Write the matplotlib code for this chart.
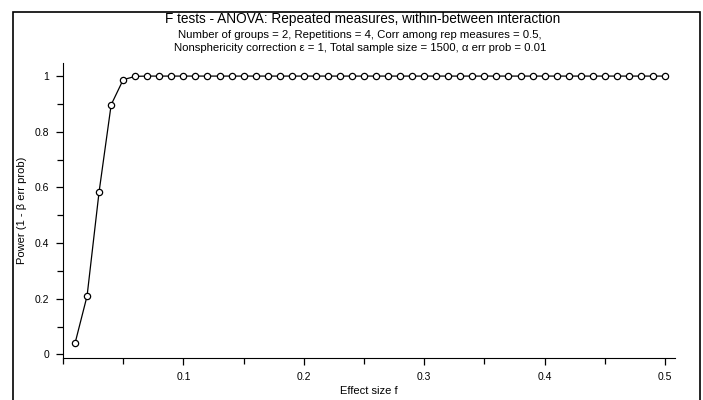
import matplotlib.pyplot as plt
from matplotlib.patches import Rectangle
from matplotlib.ticker import MultipleLocator

# effect size f and power
effect_size = [0.01, 0.02, 0.03, 0.04, 0.05, 0.06, 0.07, 0.08, 0.09, 0.10,
               0.11, 0.12, 0.13, 0.14, 0.15, 0.16, 0.17, 0.18, 0.19, 0.20,
               0.21, 0.22, 0.23, 0.24, 0.25, 0.26, 0.27, 0.28, 0.29, 0.30,
               0.31, 0.32, 0.33, 0.34, 0.35, 0.36, 0.37, 0.38, 0.39, 0.40,
               0.41, 0.42, 0.43, 0.44, 0.45, 0.46, 0.47, 0.48, 0.49, 0.50]
power = [0.04, 0.21, 0.585, 0.897, 0.987, 0.999] + [1.0] * 44

x_ticks = [0.1, 0.2, 0.3, 0.4, 0.5]
y_ticks = [0, 0.2, 0.4, 0.6, 0.8, 1]

title_lines = [
    "F tests - ANOVA: Repeated measures, within-between interaction",
    "Number of groups = 2, Repetitions = 4, Corr among rep measures = 0.5,",
    "Nonsphericity correction \u03b5 = 1, Total sample size = 1500, \u03b1 err prob = 0.01",
]

plt.rcParams["font.family"] = ["Liberation Sans", "DejaVu Sans"]

fig = plt.figure(figsize=(7.03, 4.0), dpi=100)

# outer frame of the window
fig.patches.append(Rectangle((13 / 703, -0.01), 687 / 703, 1 - 12 / 400 + 0.01,
                             transform=fig.transFigure, fill=False,
                             edgecolor="black", linewidth=1.2))

ax = fig.add_axes([63 / 703, 1 - 358 / 400, (675 - 63) / 703, (358 - 63) / 400])
ax.plot(effect_size, power, color="black", linewidth=0.9,
        marker="o", markersize=4.5, markerfacecolor="white",
        markeredgecolor="black", markeredgewidth=0.9)

ax.set_xlim(0, 0.5083)
ax.set_ylim(-0.013, 1.047)
ax.set_xticks(x_ticks)
ax.set_xticklabels([str(t) for t in x_ticks])
ax.set_yticks(y_ticks)
ax.set_yticklabels(["0", "0.2", "0.4", "0.6", "0.8", "1"])
ax.xaxis.set_minor_locator(MultipleLocator(0.05))
ax.yaxis.set_minor_locator(MultipleLocator(0.1))
ax.tick_params(which="both", direction="out", labelsize=7.5, width=0.9)
ax.tick_params(which="major", length=5, pad=5)
ax.tick_params(which="minor", length=4)
ax.spines["top"].set_visible(False)
ax.spines["right"].set_visible(False)
ax.set_xlabel("Effect size f", fontsize=8, labelpad=3)
ax.set_ylabel("Power (1 - \u03b2 err prob)", fontsize=8)
ax.yaxis.set_label_coords((27 - 63) / 612, 0.5)

fig.text(363 / 703, 1 - 19 / 400, title_lines[0], ha="center", va="center", fontsize=9.8)
fig.text(360 / 703, 1 - 35.5 / 400, title_lines[1], ha="center", va="center", fontsize=8.2)
fig.text(360 / 703, 1 - 48 / 400, title_lines[2], ha="center", va="center", fontsize=8.2)

fig.savefig("out.png", dpi=100, facecolor="white")
